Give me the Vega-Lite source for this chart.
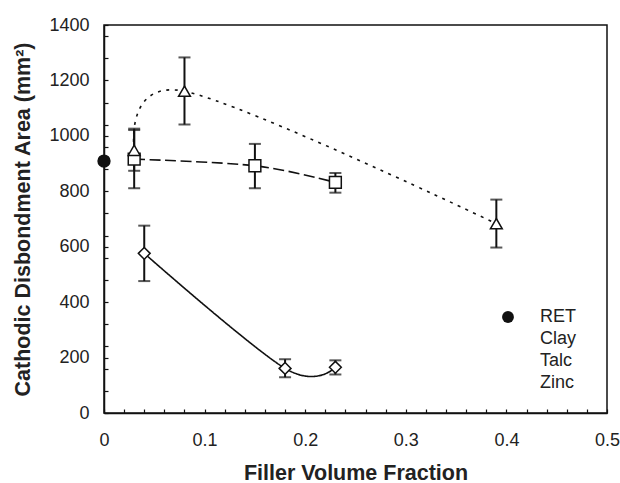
{
  "$schema": "https://vega.github.io/schema/vega-lite/v6.json",
  "width": 503,
  "height": 388,
  "autosize": {"type": "none"},
  "padding": {"left": 104, "top": 25, "right": 13, "bottom": 70},
  "background": "white",
  "config": {
    "view": {"stroke": "#111", "strokeWidth": 1.5},
    "axis": {
      "domainColor": "#111", "domainWidth": 1.5,
      "tickColor": "#111", "tickWidth": 1.2, "tickSize": -4,
      "labelFont": "Liberation Sans", "labelFontSize": 18, "labelColor": "#222",
      "titleFont": "Liberation Sans", "titleFontSize": 21.5, "titleFontWeight": "bold", "titleColor": "#222",
      "grid": false, "labelOverlap": false, "labelFlush": false
    }
  },
  "data": {"values": [
    {"series": "RET", "x": 0, "y": 909},
    {"series": "Clay", "x": 0.04, "y": 576, "lo": 476, "hi": 676},
    {"series": "Clay", "x": 0.18, "y": 161, "lo": 129, "hi": 194},
    {"series": "Clay", "x": 0.23, "y": 165, "lo": 139, "hi": 190},
    {"series": "Talc", "x": 0.03, "y": 916, "lo": 811, "hi": 1021},
    {"series": "Talc", "x": 0.15, "y": 892, "lo": 811, "hi": 971},
    {"series": "Talc", "x": 0.23, "y": 832, "lo": 795, "hi": 866},
    {"series": "Zinc", "x": 0.03, "y": 948, "lo": 874, "hi": 1026},
    {"series": "Zinc", "x": 0.08, "y": 1161, "lo": 1041, "hi": 1283},
    {"series": "Zinc", "x": 0.39, "y": 683, "lo": 597, "hi": 770}
  ]},
  "encoding": {
    "x": {
      "field": "x", "type": "quantitative",
      "scale": {"domain": [0, 0.5], "nice": false, "zero": false},
      "title": "Filler Volume Fraction",
      "axis": {
        "values": [0,0.02,0.04,0.06,0.08,0.1,0.12,0.14,0.16,0.18,0.2,0.22,0.24,0.26,0.28,0.3,0.32,0.34,0.36,0.38,0.4,0.42,0.44,0.46,0.48,0.5],
        "labelExpr": "round(datum.value*100) % 10 == 0 ? format(datum.value, '~g') : ''",
        "labelPadding": 22, "titlePadding": 13
      }
    },
    "y": {
      "field": "y", "type": "quantitative",
      "scale": {"domain": [0, 1400], "nice": false},
      "title": "Cathodic Disbondment Area (mm²)",
      "axis": {
        "values": [0,80,160,200,240,320,400,480,560,600,640,720,800,880,960,1000,1040,1120,1200,1280,1360,1400],
        "labelExpr": "datum.value % 200 == 0 ? format(datum.value, 'd') : ''",
        "labelPadding": 19, "titlePadding": 14
      }
    }
  },
  "layer": [
    {
      "mark": {"type": "line", "interpolate": "cardinal", "tension": 0, "color": "#111", "strokeWidth": 1.6},
      "encoding": {
        "strokeDash": {
          "field": "series", "type": "nominal",
          "scale": {"domain": ["Clay", "Talc", "Zinc", "RET"], "range": [[1, 0], [11, 4.5], [3, 5.5], [1, 0]]},
          "legend": null
        }
      }
    },
    {
      "transform": [{"filter": "datum.lo != null"}],
      "mark": {"type": "errorbar", "color": "#111", "ticks": {"size": 12, "thickness": 2}, "rule": {"strokeWidth": 2}},
      "encoding": {
        "y": {"field": "lo", "type": "quantitative", "title": "Cathodic Disbondment Area (mm²)"},
        "y2": {"field": "hi"}
      }
    },
    {
      "mark": {"type": "point", "filled": false, "color": "#111", "strokeWidth": 1.5, "size": 140, "opacity": 1},
      "encoding": {
        "fill": {
          "field": "series", "type": "nominal",
          "scale": {"domain": ["RET", "Clay", "Talc", "Zinc"], "range": ["#111", "white", "white", "white"]},
          "legend": {
            "orient": "none", "legendX": 395, "legendY": 283, "title": null,
            "symbolSize": 140, "rowPadding": 4, "labelOffset": 23, "padding": 0,
            "labelFont": "Liberation Sans", "labelFontSize": 18, "labelColor": "#222",
            "symbolStrokeColor": "#111", "symbolStrokeWidth": 1.5, "symbolOpacity": 1
          }
        },
        "shape": {
          "field": "series", "type": "nominal",
          "scale": {"domain": ["RET", "Clay", "Talc", "Zinc"], "range": ["circle", "diamond", "square", "triangle-up"]},
          "legend": {
            "orient": "none", "legendX": 395, "legendY": 283, "title": null,
            "symbolSize": 140, "rowPadding": 4, "labelOffset": 23, "padding": 0,
            "labelFont": "Liberation Sans", "labelFontSize": 18, "labelColor": "#222",
            "symbolStrokeColor": "#111", "symbolStrokeWidth": 1.5, "symbolOpacity": 1
          }
        }
      }
    }
  ]
}
